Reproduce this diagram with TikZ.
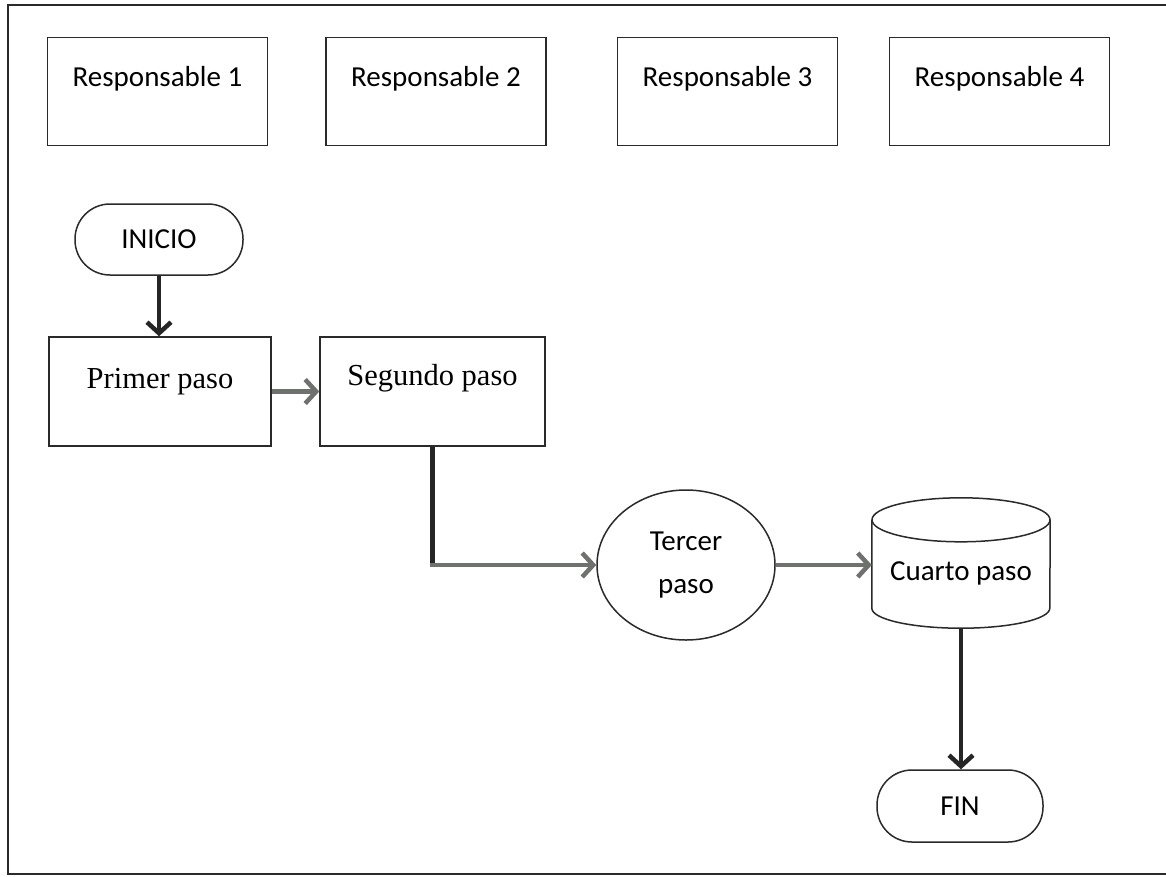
\documentclass[tikz,border=0pt]{standalone}
\usepackage{fontspec}
\newfontfamily\carl{Carlito}
\newfontfamily\tms{Liberation Serif}
\usetikzlibrary{arrows.meta,calc,shapes.geometric}
\definecolor{ink}{HTML}{2A2A2A}
\definecolor{arrdark}{HTML}{262626}
\definecolor{arrgray}{HTML}{6E716E}
\tikzset{
  boxline/.style={draw=ink, line width=1.5pt},
  respbox/.style={boxline, rectangle, minimum width=220pt, minimum height=108pt, inner sep=0pt,
    font=\carl\fontsize{29}{35}\selectfont, text height=49pt, text depth=59pt},
  stepbox/.style={boxline, rectangle, minimum width=222pt, minimum height=109pt, inner sep=0pt,
    font=\tms\fontsize{30.5}{36}\selectfont},
  term/.style={boxline, rectangle, rounded corners=35pt, minimum width=168pt, minimum height=71pt,
    inner sep=0pt, font=\carl\fontsize{29}{35}\selectfont},
  flowarr/.style={line width=4.5pt, -{Straight Barb[length=11pt,width=24pt]}},
}
\begin{document}
\begin{tikzpicture}[x=1pt,y=-1pt]
\useasboundingbox[fill=white] (0,0) rectangle (1166,876);
% outer frame
\draw[ink, line width=1.5pt] (1170,5) -- (8,5) -- (8,874) -- (1170,874);

% responsables
\node[respbox] (r1) at (157.5,91.5) {Responsable 1};
\node[respbox] (r2) at (436,91.5) {Responsable 2};
\node[respbox] (r3) at (727.5,91.5) {Responsable 3};
\node[respbox] (r4) at (999.5,91.5) {Responsable 4};

% flow
\node[term] (inicio) at (159,239.5) {INICIO};
\node[stepbox, text height=51pt, text depth=58pt] (primer) at (160,391.5) {Primer paso};
\node[stepbox, minimum width=225pt, text height=48pt, text depth=61pt] (segundo) at (432.5,391.5) {Segundo paso};
\node[boxline, ellipse, minimum width=178pt, minimum height=150pt, inner sep=0pt, align=center,
  font=\carl\fontsize{29}{43}\selectfont] (tercer) at (686,565) {Tercer\\paso};
\node[rectangle, minimum width=178pt, minimum height=130pt, inner sep=0pt,
  font=\carl\fontsize{29}{35}\selectfont, text height=82pt, text depth=48pt] (cuarto) at (961,563) {Cuarto paso};
\node[term, minimum width=166pt, minimum height=72pt] (fin) at (960,806) {FIN};

% cylinder outline for cuarto
\draw[boxline] ([yshift=-22pt]cuarto.north west) -- ([yshift=20pt]cuarto.south west)
  arc[start angle=180, end angle=360, x radius=89pt, y radius=20pt]
  -- ([yshift=-22pt]cuarto.north east);
\draw[boxline] ([yshift=-22pt]cuarto.north) ellipse[x radius=89pt, y radius=22pt];

% connectors
\coordinate (corner) at (segundo.south |- tercer.west);
\draw[flowarr, arrdark] (inicio.south) -- (inicio.south |- primer.north);
\draw[flowarr, arrgray] (primer.east) -- (primer.east -| segundo.west);
\draw[arrdark, line width=4.5pt] (segundo.south) -- (corner);
\draw[flowarr, arrgray] ([xshift=-2.25pt]corner) -- (tercer.west);
\draw[flowarr, arrgray] (tercer.east) -- (tercer.east -| cuarto.west);
\draw[flowarr, arrdark] (cuarto.south) -- (cuarto.south |- fin.north);
\end{tikzpicture}
\end{document}
